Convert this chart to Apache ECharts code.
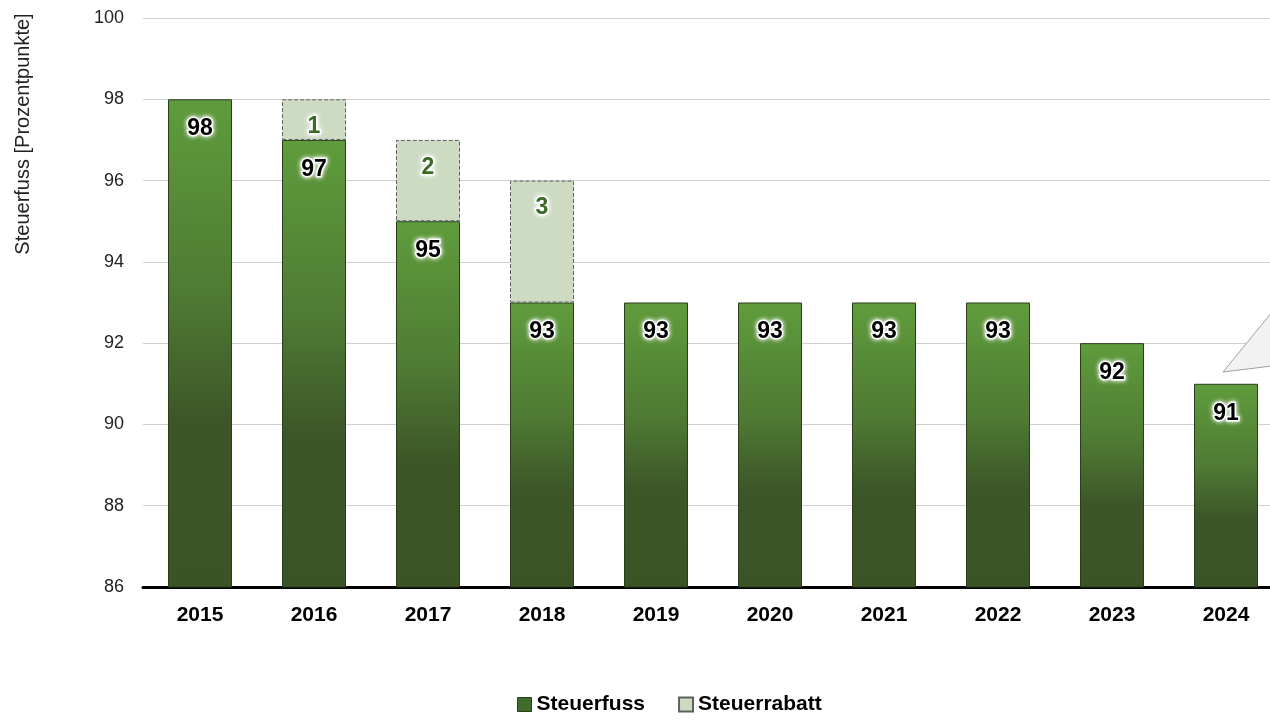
<!DOCTYPE html>
<html>
<head>
<meta charset="utf-8">
<script src="https://cdn.jsdelivr.net/npm/echarts@6/dist/echarts.min.js"></script>
<style>
html,body{margin:0;padding:0;background:#fff;}
#c{width:1270px;height:723px;}
</style>
</head>
<body>
<div id="c"></div>
<script>
var years = ['2015','2016','2017','2018','2019','2020','2021','2022','2023','2024'];
var steuerfuss = [98, 97, 95, 93, 93, 93, 93, 93, 92, 91];
var steuerrabatt = [null, 1, 2, 3, null, null, null, null, null, null];
var yTicks = [86, 88, 90, 92, 94, 96, 98, 100];
var yName = 'Steuerfuss [Prozentpunkte]';

var FONT = '"Liberation Sans Narrow", "Arial Narrow", "Liberation Sans", Arial, sans-serif';
var chart = echarts.init(document.getElementById('c'));
var glow = {
  textBorderColor: '#ffffff', textBorderWidth: 3,
  textShadowColor: '#ffffff', textShadowBlur: 5
};
chart.setOption({
  animation: false,
  textStyle: { fontFamily: FONT },
  grid: { left: 143, top: 18, width: 1140, bottom: 136, containLabel: false, outerBoundsMode: 'none' },
  legend: {
    bottom: 3, left: 512, icon: 'rect', itemWidth: 14, itemHeight: 14, itemGap: 33,
    textStyle: { fontFamily: FONT, fontWeight: 'bold', fontSize: 21, color: '#000' },
    data: [
      { name: 'Steuerfuss', itemStyle: { color: '#3f6b2b', borderColor: '#2a3d1c', borderWidth: 1 } },
      { name: 'Steuerrabatt' }
    ]
  },
  xAxis: {
    type: 'category', data: years,
    axisLine: { lineStyle: { color: '#000', width: 3 } },
    axisTick: { show: false },
    axisLabel: { fontFamily: FONT, fontWeight: 'bold', fontSize: 21, color: '#000', margin: 18 }
  },
  yAxis: {
    type: 'value', min: yTicks[0], max: yTicks[yTicks.length - 1], interval: 2,
    axisLine: { show: false }, axisTick: { show: false },
    axisLabel: { fontFamily: FONT, fontSize: 18, color: '#222', margin: 19 },
    splitLine: { lineStyle: { color: '#d0d0d0', width: 1 } }
  },
  graphic: [
    {
      type: 'text', x: 23, y: 134, rotation: Math.PI / 2,
      style: { text: yName, font: '20px ' + FONT, fill: '#222', align: 'center', verticalAlign: 'middle' }
    },
    {
      type: 'polygon', z: 10,
      shape: { points: [[1223, 372], [1272, 312], [1272, 366]] },
      style: { fill: '#f2f2f2', stroke: '#a0a0a0', lineWidth: 1 }
    }
  ],
  series: [
    {
      name: 'Steuerfuss', type: 'bar', stack: 's', data: steuerfuss, barWidth: 64,
      itemStyle: {
        color: new echarts.graphic.LinearGradient(0, 0, 0, 1, [
          { offset: 0, color: '#5f9c3c' },
          { offset: 0.4, color: '#4f7a33' },
          { offset: 0.66, color: '#3c5628' },
          { offset: 1, color: '#3a5426' }
        ]),
        borderColor: '#2a3d1c', borderWidth: 1
      },
      label: Object.assign({
        show: true, position: 'insideTop', distance: 18,
        fontFamily: FONT, fontWeight: 'bold', fontSize: 23, color: '#000'
      }, glow)
    },
    {
      name: 'Steuerrabatt', type: 'bar', stack: 's', data: steuerrabatt, barWidth: 64,
      itemStyle: { color: '#cddbc3', borderColor: '#606060', borderWidth: 1, borderType: 'dashed' },
      label: Object.assign({
        show: true, position: 'insideTop', distance: 16,
        fontFamily: FONT, fontWeight: 'bold', fontSize: 23, color: '#3b6a22'
      }, glow)
    }
  ]
});
</script>
</body>
</html>
